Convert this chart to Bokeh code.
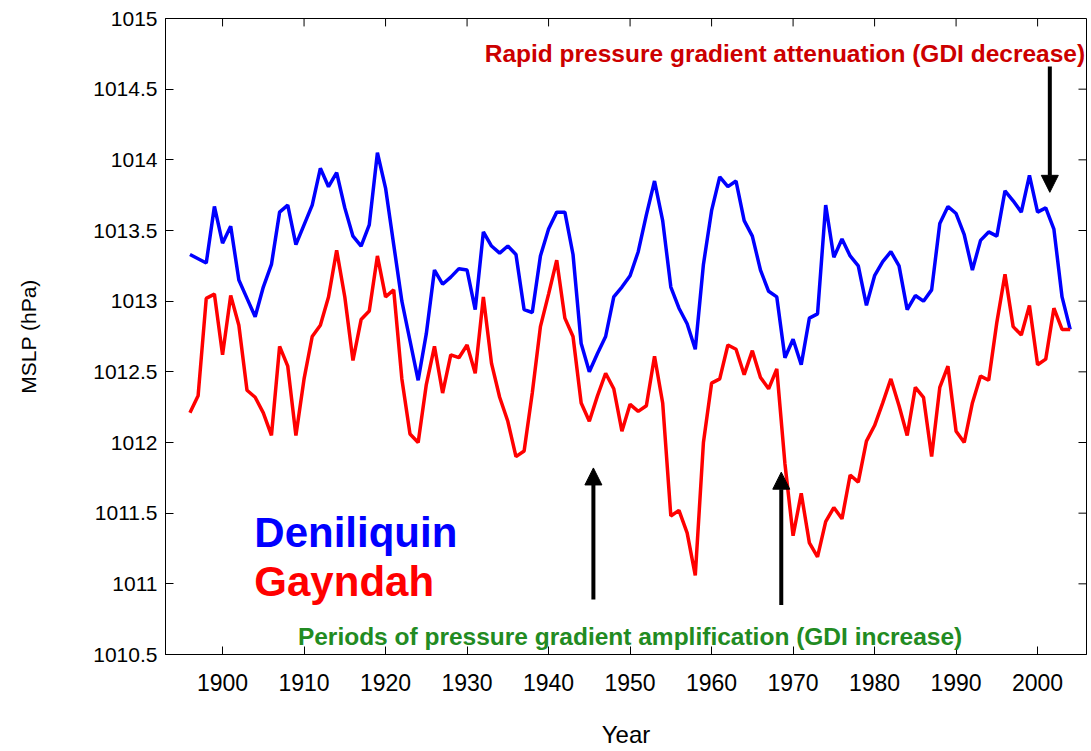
from bokeh.plotting import figure
from bokeh.models import Range1d, FixedTicker, Label, Arrow, NormalHead
from bokeh.embed import file_html
from bokeh.resources import INLINE

years = list(range(1896, 2005))

deniliquin = [
    1013.33, 1013.30, 1013.27, 1013.67, 1013.41, 1013.53, 1013.15, 1013.02, 1012.89, 1013.10,  # 1896-1905
    1013.26, 1013.63, 1013.68, 1013.40, 1013.54, 1013.68, 1013.94, 1013.81, 1013.91, 1013.66,  # 1906-1915
    1013.46, 1013.39, 1013.54, 1014.05, 1013.80, 1013.40, 1013.00, 1012.72, 1012.44, 1012.77,  # 1916-1925
    1013.22, 1013.12, 1013.17, 1013.23, 1013.22, 1012.94, 1013.49, 1013.39, 1013.34, 1013.39,  # 1926-1935
    1013.33, 1012.94, 1012.92, 1013.32, 1013.51, 1013.63, 1013.63, 1013.33, 1012.70, 1012.50,  # 1936-1945
    1012.63, 1012.75, 1013.03, 1013.10, 1013.18, 1013.35, 1013.61, 1013.85, 1013.57, 1013.10,  # 1946-1955
    1012.95, 1012.84, 1012.66, 1013.26, 1013.64, 1013.88, 1013.81, 1013.85, 1013.57, 1013.46,  # 1956-1965
    1013.22, 1013.07, 1013.03, 1012.60, 1012.73, 1012.55, 1012.88, 1012.91, 1013.68, 1013.31,  # 1966-1975
    1013.44, 1013.32, 1013.25, 1012.97, 1013.18, 1013.28, 1013.35, 1013.25, 1012.94, 1013.04,  # 1976-1985
    1013.00, 1013.08, 1013.55, 1013.67, 1013.62, 1013.47, 1013.22, 1013.43, 1013.49, 1013.46,  # 1986-1995
    1013.78, 1013.71, 1013.63, 1013.89, 1013.63, 1013.66, 1013.51, 1013.03, 1012.80,           # 1996-2004
]

gayndah = [
    1012.21, 1012.33, 1013.02, 1013.05, 1012.62, 1013.04, 1012.83, 1012.37, 1012.32, 1012.21,  # 1896-1905
    1012.05, 1012.68, 1012.54, 1012.05, 1012.45, 1012.75, 1012.83, 1013.03, 1013.36, 1013.03,  # 1906-1915
    1012.58, 1012.87, 1012.93, 1013.32, 1013.03, 1013.08, 1012.45, 1012.06, 1012.00, 1012.41,  # 1916-1925
    1012.68, 1012.35, 1012.62, 1012.60, 1012.69, 1012.49, 1013.03, 1012.56, 1012.32, 1012.15,  # 1926-1935
    1011.90, 1011.94, 1012.35, 1012.82, 1013.05, 1013.29, 1012.88, 1012.75, 1012.28, 1012.15,  # 1936-1945
    1012.33, 1012.49, 1012.38, 1012.08, 1012.27, 1012.22, 1012.26, 1012.61, 1012.28, 1011.48,  # 1946-1955
    1011.52, 1011.36, 1011.06, 1012.00, 1012.42, 1012.45, 1012.69, 1012.66, 1012.48, 1012.65,  # 1956-1965
    1012.46, 1012.38, 1012.52, 1011.85, 1011.34, 1011.64, 1011.29, 1011.19, 1011.44, 1011.54,  # 1966-1975
    1011.46, 1011.77, 1011.72, 1012.01, 1012.12, 1012.28, 1012.45, 1012.26, 1012.05, 1012.39,  # 1976-1985
    1012.32, 1011.90, 1012.39, 1012.54, 1012.08, 1012.00, 1012.28, 1012.47, 1012.44, 1012.85,  # 1986-1995
    1013.19, 1012.82, 1012.76, 1012.97, 1012.55, 1012.59, 1012.95, 1012.80, 1012.80,           # 1996-2004
]

x_ticks = [1900, 1910, 1920, 1930, 1940, 1950, 1960, 1970, 1980, 1990, 2000]
y_ticks = [1010.5, 1011, 1011.5, 1012, 1012.5, 1013, 1013.5, 1014, 1014.5, 1015]
y_tick_labels = ["1010.5", "1011", "1011.5", "1012", "1012.5", "1013", "1013.5", "1014", "1014.5", "1015"]

# annotation arrows: (x, y_start, y_end)
arrow_x = [2001.5, 1945.5, 1968.55]
arrow_y_start = [1014.66, 1010.89, 1010.85]
arrow_y_end = [1013.77, 1011.82, 1011.79]

FONT = "Liberation Sans"
X0, X1, Y0, Y1 = 1893, 2006, 1010.5, 1015

p = figure(width=1090, height=750, output_backend="svg", toolbar_location=None,
           x_range=Range1d(X0, X1), y_range=Range1d(Y0, Y1),
           min_border_left=165, min_border_right=4, min_border_top=18, min_border_bottom=90)

p.xgrid.visible = False
p.ygrid.visible = False
p.outline_line_color = "#000000"
p.background_fill_color = "white"
p.border_fill_color = "white"

# inward ticks on top and right edges of the box (at the tick positions)
tick_len_x = 8 / 142.7   # hPa for 8 px
tick_len_y = 8 / 8.15    # years for 8 px
p.segment(x0=x_ticks, y0=[Y1] * len(x_ticks), x1=x_ticks, y1=[Y1 - tick_len_x] * len(x_ticks),
          line_color="#000000", line_width=1)
p.segment(x0=[X1] * len(y_ticks), y0=y_ticks, x1=[X1 - tick_len_y] * len(y_ticks), y1=y_ticks,
          line_color="#000000", line_width=1)

p.line(years, deniliquin, line_color="#0000ff", line_width=3.5)
p.line(years, gayndah, line_color="#ff0000", line_width=3.5)

# bottom axis
xa = p.xaxis[0]
xa.ticker = FixedTicker(ticks=x_ticks)
xa.major_tick_in = 8
xa.major_tick_out = 0
xa.minor_tick_line_color = None
xa.axis_line_color = "#000000"
xa.major_tick_line_color = "#000000"
xa.major_label_text_font = FONT
xa.major_label_text_font_size = "23px"
xa.major_label_text_color = "#000000"
xa.major_label_standoff = 19
xa.axis_label = "Year"
xa.axis_label_text_font = FONT
xa.axis_label_text_font_style = "normal"
xa.axis_label_text_font_size = "24px"
xa.axis_label_text_color = "#000000"
xa.axis_label_standoff = 27

# left axis
ya = p.yaxis[0]
ya.ticker = FixedTicker(ticks=y_ticks)
ya.major_label_overrides = {t: l for t, l in zip(y_ticks, y_tick_labels)}
ya.major_tick_in = 8
ya.major_tick_out = 0
ya.minor_tick_line_color = None
ya.axis_line_color = "#000000"
ya.major_tick_line_color = "#000000"
ya.major_label_text_font = FONT
ya.major_label_text_font_size = "21px"
ya.major_label_text_color = "#000000"
ya.major_label_standoff = 8
ya.axis_label = "MSLP (hPa)"
ya.axis_label_text_font = FONT
ya.axis_label_text_font_style = "normal"
ya.axis_label_text_font_size = "21px"
ya.axis_label_text_color = "#000000"
ya.axis_label_standoff = 50

# arrows
for xx, ys, ye in zip(arrow_x, arrow_y_start, arrow_y_end):
    p.add_layout(Arrow(end=NormalHead(size=17, fill_color="black", line_color="black"),
                       x_start=xx, y_start=ys, x_end=xx, y_end=ye,
                       line_width=4, line_color="black"))

# texts
p.add_layout(Label(x=1969, y=1014.75, text="Rapid pressure gradient attenuation (GDI decrease)",
                   text_font=FONT, text_font_style="bold", text_font_size="24.5px",
                   text_color="#cc0000", text_align="center", text_baseline="alphabetic"))
p.add_layout(Label(x=1950, y=1010.63, text="Periods of pressure gradient amplification (GDI increase)",
                   text_font=FONT, text_font_style="bold", text_font_size="24.5px",
                   text_color="#228b22", text_align="center", text_baseline="alphabetic"))
p.add_layout(Label(x=1903.9, y=1011.36, text="Deniliquin",
                   text_font=FONT, text_font_style="bold", text_font_size="42px",
                   text_color="#0000ff", text_align="left", text_baseline="alphabetic"))
p.add_layout(Label(x=1903.9, y=1011.02, text="Gayndah",
                   text_font=FONT, text_font_style="bold", text_font_size="42px",
                   text_color="#ff0000", text_align="left", text_baseline="alphabetic"))

open("out.html", "w").write(file_html(p, INLINE))
